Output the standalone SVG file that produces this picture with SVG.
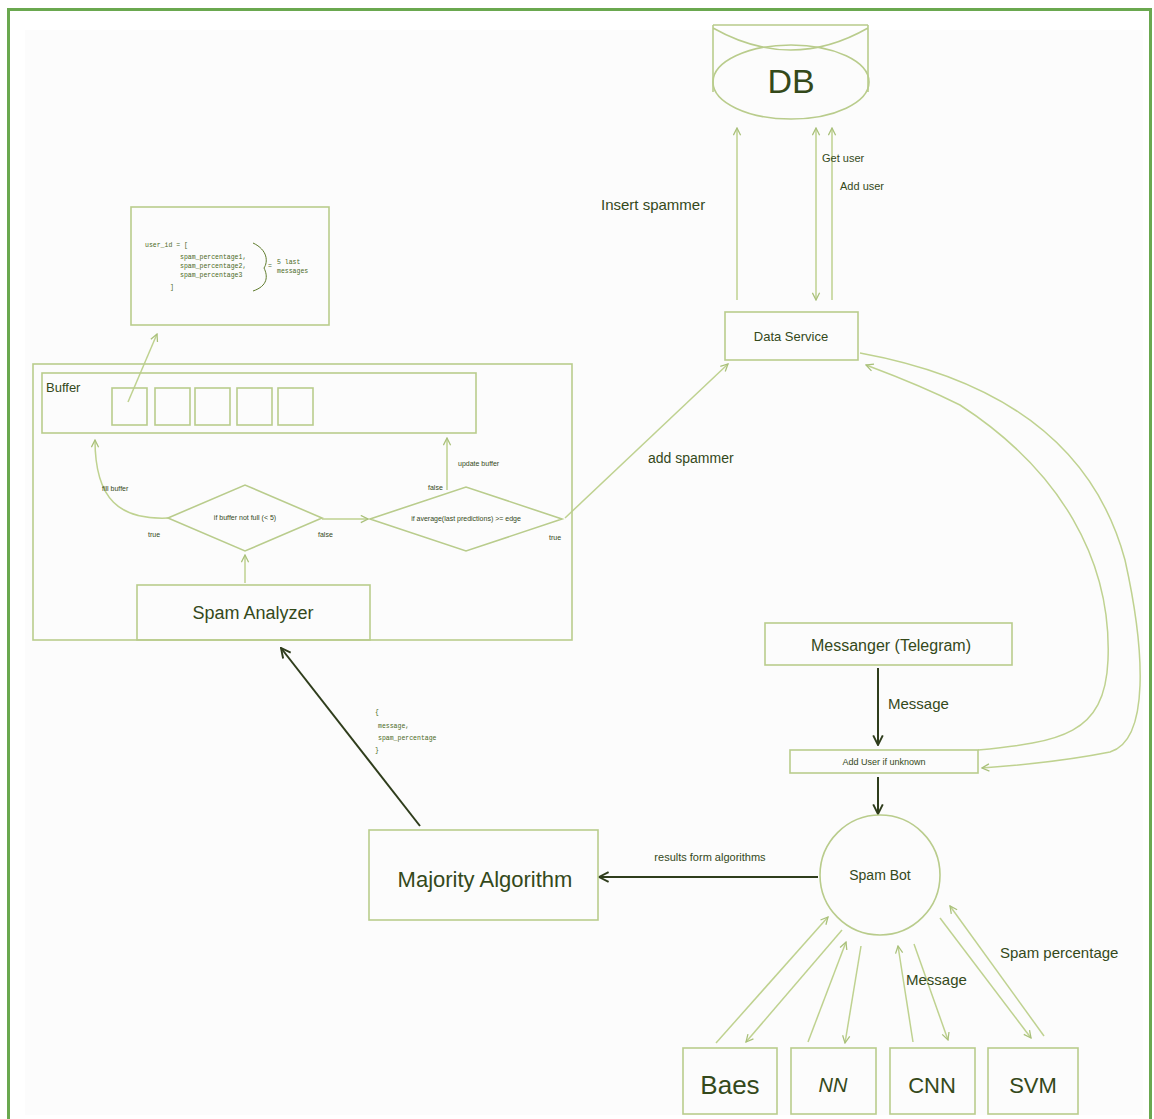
<svg xmlns="http://www.w3.org/2000/svg" width="1154" height="1119" viewBox="0 0 1154 1119">
<defs>
<style>
.box{fill:none;stroke:#b9cc8c;stroke-width:1.6}
.ln{fill:none;stroke:#bfd290;stroke-width:1.5}
.dk{fill:none;stroke:#2f3d1c;stroke-width:2}
.t{font-family:"Liberation Sans","DejaVu Sans",sans-serif;fill:#34491a;text-anchor:middle}
.tl{font-family:"Liberation Sans","DejaVu Sans",sans-serif;fill:#34491a}
.mono{font-family:"Liberation Mono","DejaVu Sans Mono",monospace;fill:#4a6a1c;font-size:6.5px}
</style>
<marker id="ah" viewBox="0 0 10 10" refX="9" refY="5" markerWidth="9" markerHeight="9" orient="auto-start-reverse" markerUnits="userSpaceOnUse">
<path d="M1,1 L9,5 L1,9" fill="none" stroke="#a9c07a" stroke-width="1.4"/>
</marker>
<marker id="ahd" viewBox="0 0 10 10" refX="9" refY="5" markerWidth="12" markerHeight="12" orient="auto-start-reverse" markerUnits="userSpaceOnUse">
<path d="M1,1 L9,5 L1,9" fill="none" stroke="#2f3d1c" stroke-width="1.6"/>
</marker>
</defs>
<rect x="0" y="0" width="1154" height="1119" fill="#ffffff"/>
<rect x="25" y="30" width="1118" height="1085" fill="#fcfcfc"/>
<path d="M8.5,1119 V9.5 H1150.5 V1119" fill="none" stroke="#6aa84f" stroke-width="3"/>

<g id="connectors">
<line class="ln" x1="737" y1="300" x2="737" y2="128" marker-end="url(#ah)"/>
<line class="ln" x1="816" y1="300" x2="816" y2="128" marker-start="url(#ah)" marker-end="url(#ah)"/>
<line class="ln" x1="832" y1="300" x2="832" y2="128" marker-end="url(#ah)"/>
<path class="ln" d="M565,518 L728,364" marker-end="url(#ah)"/>
<path class="ln" d="M860,353 C980,375 1090,430 1125,560 C1145,650 1150,740 1110,752 C1060,762 1010,766 982,768" marker-end="url(#ah)"/>
<path class="ln" d="M978,750 C1060,742 1105,735 1108,660 C1112,560 1060,470 960,405 C920,385 890,374 866,365" marker-end="url(#ah)"/>
<line class="dk" x1="878" y1="668" x2="878" y2="745" marker-end="url(#ahd)"/>
<line class="dk" x1="878" y1="777" x2="878" y2="814" marker-end="url(#ahd)"/>
<line class="dk" x1="818" y1="877" x2="599" y2="877" marker-end="url(#ahd)"/>
<line class="dk" x1="420" y1="826" x2="281" y2="648" marker-end="url(#ahd)"/>
<line class="ln" x1="245" y1="583" x2="245" y2="555" marker-end="url(#ah)"/>
<path class="ln" d="M168,518 C120,520 95,500 95,440" marker-end="url(#ah)"/>
<line class="ln" x1="322" y1="519" x2="368" y2="519" marker-end="url(#ah)"/>
<line class="ln" x1="447" y1="490" x2="447" y2="438" marker-end="url(#ah)"/>
<line class="ln" x1="128" y1="402" x2="157" y2="334" marker-end="url(#ah)"/>
<line class="ln" x1="716" y1="1043" x2="828" y2="917" marker-end="url(#ah)"/>
<line class="ln" x1="842" y1="930" x2="746" y2="1042" marker-end="url(#ah)"/>
<line class="ln" x1="808" y1="1042" x2="846" y2="942" marker-end="url(#ah)"/>
<line class="ln" x1="861" y1="946" x2="845" y2="1043" marker-end="url(#ah)"/>
<line class="ln" x1="913" y1="1042" x2="898" y2="946" marker-end="url(#ah)"/>
<line class="ln" x1="914" y1="944" x2="948" y2="1040" marker-end="url(#ah)"/>
<line class="ln" x1="940" y1="918" x2="1031" y2="1038" marker-end="url(#ah)"/>
<line class="ln" x1="1044" y1="1036" x2="950" y2="906" marker-end="url(#ah)"/>
</g>

<g id="labels">
<text class="tl" x="601" y="210" font-size="15">Insert spammer</text>
<text class="tl" x="822" y="162" font-size="11">Get user</text>
<text class="tl" x="840" y="190" font-size="11">Add user</text>
<text class="tl" x="648" y="463" font-size="14">add spammer</text>
<text class="tl" x="888" y="709" font-size="15">Message</text>
<text class="t" x="710" y="861" font-size="11">results form algorithms</text>
<text class="tl" x="906" y="985" font-size="15">Message</text>
<text class="tl" x="1000" y="958" font-size="15">Spam percentage</text>
<text class="mono" x="375" y="714">{</text>
<text class="mono" x="378" y="728">message,</text>
<text class="mono" x="378" y="740">spam_percentage</text>
<text class="mono" x="375" y="752">}</text>
<text class="tl" x="102" y="491" font-size="7">fill buffer</text>
<text class="tl" x="148" y="537" font-size="7">true</text>
<text class="tl" x="318" y="537" font-size="7">false</text>
<text class="tl" x="428" y="490" font-size="7">false</text>
<text class="tl" x="458" y="466" font-size="7">update buffer</text>
<text class="tl" x="549" y="540" font-size="7">true</text>
</g>

<g id="db">
<path class="box" d="M713,25 H868 M713,25 V92 M868,25 V92 M713,28 Q791,72 868,28"/>
<ellipse class="box" cx="791" cy="82" rx="78" ry="37"/>
<text class="t" x="791" y="93" font-size="34">DB</text>
</g>

<g id="data-service">
<rect class="box" x="725" y="312" width="133" height="48"/>
<text class="t" x="791" y="341" font-size="13">Data Service</text>
</g>

<g id="analyzer-frame">
<rect class="box" x="33" y="364" width="539" height="276" stroke-width="1.2"/>
</g>

<g id="buffer">
<rect class="box" x="42" y="373" width="434" height="60"/>
<text class="tl" x="46" y="392" font-size="13">Buffer</text>
<rect class="box" x="112" y="388" width="35" height="37"/>
<rect class="box" x="155" y="388" width="35" height="37"/>
<rect class="box" x="195" y="388" width="35" height="37"/>
<rect class="box" x="237" y="388" width="35" height="37"/>
<rect class="box" x="278" y="388" width="35" height="37"/>
</g>

<g id="buffer-structure">
<rect class="box" x="131" y="207" width="198" height="118" stroke-width="1.2"/>
<text class="mono" x="145" y="247">user_id  = [</text>
<text class="mono" x="180" y="259">spam_percentage1,</text>
<text class="mono" x="180" y="268">spam_percentage2,</text>
<text class="mono" x="180" y="277">spam_percentage3</text>
<text class="mono" x="170" y="289">]</text>
<path d="M253,243 C268,250 268,262 264,268 C268,276 268,286 253,291" fill="none" stroke="#5d7a2a" stroke-width="1"/>
<text class="mono" x="268" y="268">=</text>
<text class="mono" x="277" y="264">5 last</text>
<text class="mono" x="277" y="273">messages</text>
</g>

<g id="decision-buffer">
<polygon class="box" points="168,518 245,485 322,518 245,551"/>
<text class="t" x="245" y="520" font-size="7">if buffer not full (&lt; 5)</text>
</g>

<g id="decision-average">
<polygon class="box" points="370,519 466,487 562,519 466,551"/>
<text class="t" x="466" y="521" font-size="7">if average(last predictions) &gt;= edge</text>
</g>

<g id="spam-analyzer">
<rect class="box" x="137" y="585" width="233" height="55"/>
<text class="t" x="253" y="619" font-size="18">Spam Analyzer</text>
</g>

<g id="majority">
<rect class="box" x="369" y="830" width="229" height="90"/>
<text class="t" x="485" y="887" font-size="22">Majority Algorithm</text>
</g>

<g id="messenger">
<rect class="box" x="765" y="623" width="247" height="42"/>
<text class="t" x="891" y="651" font-size="16">Messanger (Telegram)</text>
</g>

<g id="add-user">
<rect class="box" x="790" y="750" width="188" height="23"/>
<text class="t" x="884" y="765" font-size="9">Add User if unknown</text>
</g>

<g id="spam-bot">
<circle class="box" cx="880" cy="875" r="60"/>
<text class="t" x="880" y="880" font-size="14">Spam Bot</text>
</g>

<g id="baes">
<rect class="box" x="683" y="1048" width="94" height="66"/>
<text class="t" x="730" y="1094" font-size="26">Baes</text>
</g>
<g id="nn">
<rect class="box" x="791" y="1048" width="85" height="66"/>
<text class="t" x="833" y="1092" font-size="20" font-style="italic">NN</text>
</g>
<g id="cnn">
<rect class="box" x="890" y="1048" width="85" height="66"/>
<text class="t" x="932" y="1093" font-size="22">CNN</text>
</g>
<g id="svm">
<rect class="box" x="988" y="1048" width="90" height="66"/>
<text class="t" x="1033" y="1093" font-size="22">SVM</text>
</g>
</svg>
